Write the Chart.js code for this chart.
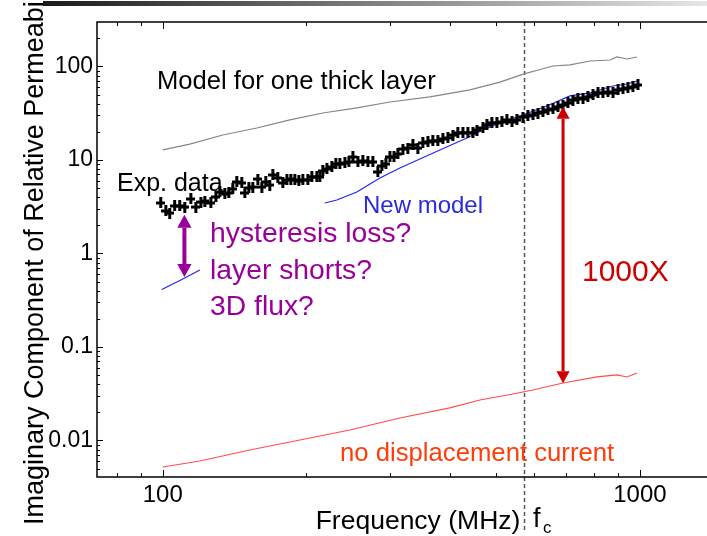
<!DOCTYPE html>
<html>
<head>
<meta charset="utf-8">
<script src="https://cdn.jsdelivr.net/npm/chart.js@4.4.1/dist/chart.umd.min.js"></script>
<style>
  html, body { margin: 0; padding: 0; background: #fff; }
  #wrap { width: 707px; height: 536px; }
</style>
</head>
<body>
<div id="wrap"><canvas id="permChart" width="707" height="536"></canvas></div>
<script>
// frequency in MHz, value = imaginary part of relative permeability
const expFreq = [99.0,101.5,103.4,105.9,108.5,111.2,114.5,117.3,120.2,122.5,
  126.1,129.2,131.7,134.9,137.5,140.2,142.9,146.4,148.6,151.5,
  154.4,158.2,161.3,164.4,167.6,170.1,174.2,178.5,182.0,185.5,
  189.1,192.8,196.6,201.4,205.3,210.3,213.4,216.5,220.8,226.1,
  230.5,235.0,240.8,245.5,250.3,256.4,262.6,269.1,275.6,282.3,
  287.9,293.5,299.2,305.1,311.0,318.6,326.3,334.3,342.4,350.8,
  359.4,368.1,377.1,386.4,395.8,405.5,415.3,425.5,435.9,446.6,
  455.3,468.7,477.8,489.4,501.4,513.7,526.3,539.2,552.2,568.5,
  582.4,596.7,611.3,626.1,641.5,657.2,673.3,689.8,706.4,723.6,
  741.3,759.5,778.0,797.1,816.6,836.3,857.1,877.9,899.5,921.3,
  943.6,966.7,990.4];
const expValue = [3.47,2.85,2.71,3.22,3.22,3.14,3.83,3.14,3.55,3.64,
  3.47,4.02,4.55,4.33,4.44,4.90,5.82,5.68,4.44,5.02,
  5.14,6.26,5.14,5.82,5.40,6.91,6.42,5.68,6.11,6.26,
  6.11,5.96,6.11,6.11,6.58,6.58,6.58,7.63,8.01,8.42,
  9.06,9.06,9.29,9.52,10.77,9.52,9.76,9.52,9.52,7.44,
  8.63,9.06,10.77,10.77,11.6,13.1,13.4,14.5,13.4,15.2,
  15.6,16.0,16.0,16.8,17.2,18.5,19.5,19.5,19.5,19.5,
  20.9,22.0,23.7,24.9,24.9,25.5,26.8,25.5,26.8,28.8,
  29.6,30.3,31.8,32.6,34.3,35.1,36.9,38.7,40.7,43.8,
  46.0,44.9,47.2,49.6,52.1,52.1,53.4,52.1,56.1,57.5,
  58.9,60.4,63.4];

const thickFreq = [100,113.9,133.6,157.4,184.6,216.5,255.1,299.2,362.9,440.1,508.8,571.3,623.1,657.2,713.3,785.6,865.1,895.1,939.1,985.6];
const thickValue = [12.8,14.8,18.5,22.0,26.8,31.8,36.0,41.7,47.2,56.1,68.0,83.2,94.0,101.2,103.8,114.5,117.3,126.4,120.3,126.4];

// new model is drawn in two pieces (null = gap)
const newFreq = [99.5,109.1,119.6,160,218.6,231.6,255.1,285.1,314.0,345.7,380.8,433.8,468.7,508.8,568.5,638.4,713.3,785.6,877.9,939.1,985.6];
const newValue = [0.412,0.521,0.666,null,3.47,3.73,4.55,6.42,8.21,10.25,12.8,17.2,20.9,24.9,30.3,37.8,48.4,52.1,61.8,65.0,70.0];

const noDispFreq = [100,119.6,152.2,193.8,246.6,314.0,399.6,461.9,541.8,596.7,689.8,812.6,895.1,939.1,985.6];
const noDispValue = [0.00521,0.00604,0.00791,0.01012,0.01295,0.0174,0.0223,0.0271,0.0314,0.0347,0.0412,0.0478,0.0502,0.0478,0.0527];

const xTicks = [100, 1000];
const yTicks = [0.01, 0.1, 1, 10, 100];

const fc = 571;                 // cut-off frequency (dashed line)
const gapArrow = [111, 2.6, 0.56];   // freq, top, bottom
const bigArrow = [690, 37, 0.041];

const FONT = '"Liberation Sans", Arial, Helvetica, sans-serif';

function toXY(fs, vs) {
  return fs.map((f, i) => ({ x: f, y: vs[i] }));
}

function crossMarker() {
  const c = document.createElement('canvas');
  c.width = 9; c.height = 11;
  const g = c.getContext('2d');
  g.fillStyle = '#000';
  g.fillRect(0, 4, 9, 3);
  g.fillRect(3, 0, 3, 11);
  return c;
}

function arrow(ctx, x, y1, y2, color, w, head) {
  ctx.strokeStyle = color;
  ctx.fillStyle = color;
  ctx.lineWidth = w;
  ctx.beginPath();
  ctx.moveTo(x, y1 + head);
  ctx.lineTo(x, y2 - head);
  ctx.stroke();
  ctx.beginPath();
  ctx.moveTo(x, y1);
  ctx.lineTo(x - head * 0.55, y1 + head);
  ctx.lineTo(x + head * 0.55, y1 + head);
  ctx.closePath();
  ctx.fill();
  ctx.beginPath();
  ctx.moveTo(x, y2);
  ctx.lineTo(x - head * 0.55, y2 - head);
  ctx.lineTo(x + head * 0.55, y2 - head);
  ctx.closePath();
  ctx.fill();
}

function minorValues(min, max) {
  const out = [];
  for (let e = Math.floor(Math.log10(min)); e <= Math.ceil(Math.log10(max)); e++) {
    for (let m = 1; m <= 9; m++) {
      const v = m * Math.pow(10, e);
      if (v >= min && v <= max) out.push({ v: v, major: m === 1 });
    }
  }
  return out;
}

const decor = {
  id: 'decor',
  beforeDatasetsDraw(chart) {
    const { ctx, chartArea: a, scales: { x } } = chart;
    ctx.save();
    const px = Math.round(x.getPixelForValue(fc)) + 0.5;
    ctx.strokeStyle = '#555';
    ctx.lineWidth = 1.5;
    ctx.setLineDash([4, 3]);
    ctx.beginPath();
    ctx.moveTo(px, a.top);
    ctx.lineTo(px, 532);
    ctx.stroke();
    ctx.restore();
  },
  afterDatasetsDraw(chart) {
    const { ctx, chartArea: a, scales: { x, y } } = chart;
    ctx.save();

    // slide bar on top
    const grad = ctx.createLinearGradient(43, 0, 707, 0);
    grad.addColorStop(0, '#1a1a1a');
    grad.addColorStop(1, '#e6e6e6');
    ctx.fillStyle = grad;
    ctx.fillRect(43, 1, 664, 5);

    // frame
    ctx.strokeStyle = '#000';
    ctx.lineWidth = 1.5;
    ctx.beginPath();
    ctx.moveTo(chart.width, a.top);
    ctx.lineTo(a.left, a.top);
    ctx.lineTo(a.left, a.bottom);
    ctx.lineTo(chart.width, a.bottom);
    ctx.stroke();

    // inward ticks
    ctx.lineWidth = 1;
    ctx.beginPath();
    minorValues(x.min, x.max).forEach(t => {
      const p = Math.round(x.getPixelForValue(t.v)) + 0.5;
      const len = t.major ? 7 : 4;
      ctx.moveTo(p, a.bottom); ctx.lineTo(p, a.bottom - len);
      ctx.moveTo(p, a.top); ctx.lineTo(p, a.top + len);
    });
    minorValues(y.min, y.max).forEach(t => {
      const p = Math.round(y.getPixelForValue(t.v)) + 0.5;
      const len = t.major ? 6 : 3;
      ctx.moveTo(a.left, p); ctx.lineTo(a.left + len, p);
    });
    ctx.stroke();

    // arrows
    const ga = x.getPixelForValue(gapArrow[0]);
    arrow(ctx, ga, y.getPixelForValue(gapArrow[1]), y.getPixelForValue(gapArrow[2]), '#990099', 4, 13);
    const ba = x.getPixelForValue(bigArrow[0]);
    arrow(ctx, ba, y.getPixelForValue(bigArrow[1]), y.getPixelForValue(bigArrow[2]), '#cc0000', 3, 12);

    // text labels
    ctx.textBaseline = 'alphabetic';
    ctx.textAlign = 'left';
    ctx.fillStyle = '#000';
    ctx.font = '25.6px ' + FONT;
    ctx.fillText('Model for one thick layer', 157, 89);
    ctx.font = '25px ' + FONT;
    ctx.fillText('Exp. data', 117, 191);
    ctx.fillStyle = '#2b2bd9';
    ctx.font = '24px ' + FONT;
    ctx.fillText('New model', 363, 213);
    ctx.fillStyle = '#990099';
    ctx.font = '28.3px ' + FONT;
    ctx.fillText('hysteresis loss?', 210, 242);
    ctx.fillText('layer shorts?', 210, 279);
    ctx.fillText('3D flux?', 210, 315);
    ctx.fillStyle = '#cc0000';
    ctx.font = '30px ' + FONT;
    ctx.fillText('1000X', 582, 281);
    ctx.fillStyle = '#ff3d0a';
    ctx.font = '25.7px ' + FONT;
    ctx.fillText('no displacement current', 340, 461);

    // axis titles
    ctx.fillStyle = '#000';
    ctx.font = '26.5px ' + FONT;
    ctx.textAlign = 'center';
    ctx.fillText('Frequency (MHz)', 418, 529);
    ctx.textAlign = 'left';
    ctx.font = '27px ' + FONT;
    ctx.fillText('f', 533, 527);
    ctx.font = '17px ' + FONT;
    ctx.fillText('c', 543, 533);

    ctx.font = '27px ' + FONT;
    ctx.textAlign = 'left';
    ctx.translate(43, 525);
    ctx.rotate(-Math.PI / 2);
    ctx.fillText('Imaginary Component of Relative Permeability', 0, 0);
    ctx.restore();
  }
};

const ctx = document.getElementById('permChart').getContext('2d');
new Chart(ctx, {
  type: 'scatter',
  data: {
    datasets: [
      {
        label: 'Exp. data',
        data: toXY(expFreq, expValue),
        showLine: false,
        pointStyle: crossMarker(),
        pointRadius: 4
      },
      {
        label: 'New model',
        data: toXY(newFreq, newValue),
        showLine: true,
        spanGaps: false,
        borderColor: '#2424f0',
        borderWidth: 1.2,
        pointRadius: 0
      },
      {
        label: 'Model for one thick layer',
        data: toXY(thickFreq, thickValue),
        showLine: true,
        borderColor: '#858585',
        borderWidth: 1.2,
        pointRadius: 0
      },
      {
        label: 'no displacement current',
        data: toXY(noDispFreq, noDispValue),
        showLine: true,
        borderColor: '#ff4d4d',
        borderWidth: 1.2,
        pointRadius: 0
      }
    ]
  },
  options: {
    responsive: false,
    animation: false,
    layout: { autoPadding: false, padding: { top: 22, right: 0, left: 0, bottom: 0 } },
    plugins: {
      legend: { display: false },
      tooltip: { enabled: false }
    },
    scales: {
      x: {
        type: 'logarithmic',
        min: 72.8,
        max: 1382,
        grid: { display: false, drawTicks: false },
        border: { display: false },
        afterBuildTicks: axis => { axis.ticks = xTicks.map(v => ({ value: v })); },
        afterFit: axis => { axis.height = 59; axis.paddingLeft = 0; axis.paddingRight = 0; },
        ticks: {
          color: '#000',
          font: { family: FONT, size: 24 },
          padding: 4,
          autoSkip: false,
          maxRotation: 0,
          callback: v => String(v)
        }
      },
      y: {
        type: 'logarithmic',
        min: 0.00407,
        max: 299,
        grid: { display: false, drawTicks: false },
        border: { display: false },
        afterBuildTicks: axis => { axis.ticks = yTicks.map(v => ({ value: v })); },
        afterFit: axis => { axis.width = 97; axis.paddingTop = 0; axis.paddingBottom = 0; },
        ticks: {
          color: '#000',
          font: { family: FONT, size: 23 },
          padding: 4,
          autoSkip: false,
          callback: v => String(v)
        }
      }
    }
  },
  plugins: [decor]
});
</script>
</body>
</html>
